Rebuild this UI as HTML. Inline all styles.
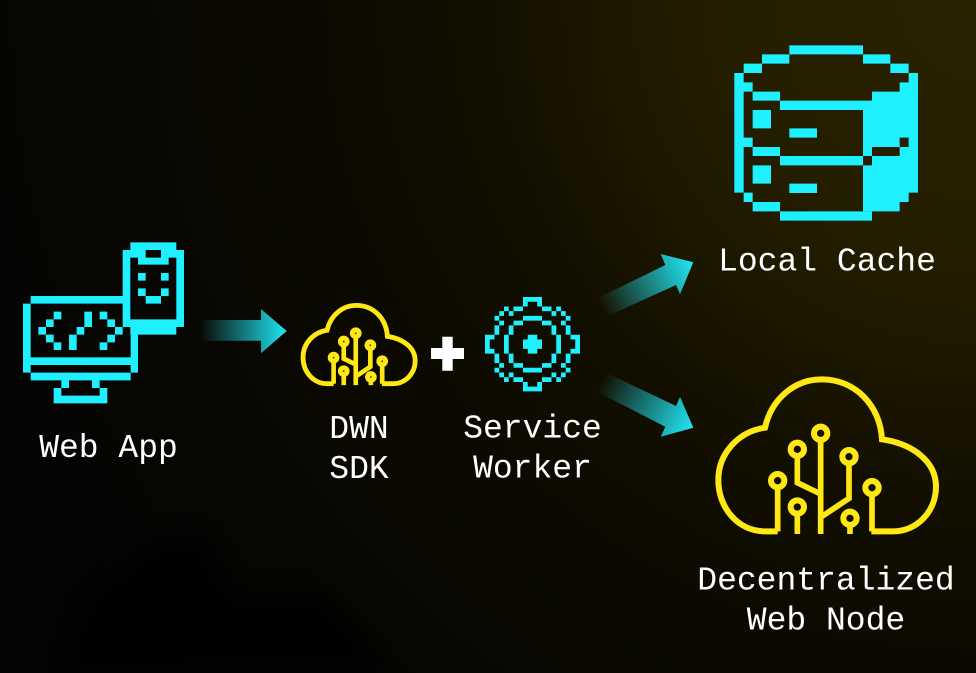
<!DOCTYPE html>
<html lang="en"><head><meta charset="utf-8"><title>DWN SDK diagram</title>
<style>
html,body{margin:0;padding:0;background:#000}
#s{display:block;width:976px;height:673px;background:radial-gradient(circle 1050px at 100% 0%,#2a2300 0%,#241d00 25%,#120f00 48%,#0c0a00 63%,#080702 80%,#050403 100%)}
text{font-family:"Liberation Mono",monospace;font-size:33px;fill:#fff;text-anchor:middle}
</style></head><body>
<svg id="s" xmlns="http://www.w3.org/2000/svg" width="976" height="673" viewBox="0 0 976 673">
<defs>
<filter id="b" x="-50%" y="-50%" width="200%" height="200%"><feGaussianBlur stdDeviation="10"/></filter>
<linearGradient id="a1" gradientUnits="userSpaceOnUse" x1="200" y1="330" x2="287" y2="330"><stop offset="0" stop-color="#20e6f5" stop-opacity="0"/><stop offset="1" stop-color="#20e6f5"/></linearGradient>
<linearGradient id="a2" gradientUnits="userSpaceOnUse" x1="602" y1="307.500" x2="693" y2="262.500"><stop offset="0" stop-color="#20e6f5" stop-opacity="0"/><stop offset="1" stop-color="#20e6f5"/></linearGradient>
<linearGradient id="a3" gradientUnits="userSpaceOnUse" x1="601" y1="382" x2="693" y2="427.700"><stop offset="0" stop-color="#20e6f5" stop-opacity="0"/><stop offset="1" stop-color="#20e6f5"/></linearGradient>
</defs>
<path d="M60 673 L85 600 L150 540 L205 530 L240 590 L330 590 L400 673 Z" fill="#000" filter="url(#b)" opacity=".7"/>

<g transform="translate(10,230) scale(.33333)" fill="#1ff0ff">
<path d="M62 198H340V221H62ZM39 221H62V428H39ZM62 382H362V405H62ZM362 313H384V428H362ZM62 428H362V451H62ZM154 451H177V474H154ZM246 451H269V474H246ZM131 474H154V497H269V474H292V520H131Z"/>
<path d="M131 245h23v23h-23zM108 268h23v23h-23zM85 291h23v23h-23zM108 314h23v23h-23zM131 337h23v23h-23zM223 245h23v46h-23zM200 291h23v23h-23zM177 314h23v46h-23zM269 245h23v23h-23zM292 268h23v23h-23zM315 291h23v23h-23zM292 314h23v23h-23zM269 337h23v23h-23z"/>
<path fill-rule="evenodd" d="M361 37H499V60H522V291H499V314H361V291H338V60H361ZM361 83V268H499V83H476V104H384V83ZM407 60V83H453V60Z"/>
<path d="M384 129h23v23h-23zM453 129h23v23h-23zM384 175h23v23h-23zM453 175h23v23h-23zM407 198h46v23h-46z"/>
</g>

<g transform="translate(720,35) scale(.33333)" fill="#1ff0ff">
<path d="M208 31H429V58H208ZM126 58H208V86H126ZM429 58H511V86H429ZM71 86H126V114H71ZM511 86H566V114H511ZM43 114H71V473H43ZM71 142H98V170H71ZM71 308H98V336H71ZM71 473H98V501H71ZM98 170H180V197H98ZM98 336H180V363H98ZM98 501H180V529H98ZM180 197H429V225H180ZM180 363H429V391H180ZM180 529H456V557H180ZM98 225H153V280H98ZM98 391H153V446H98ZM208 280H291V308H208ZM208 446H291V474H208Z"/>
<path d="M566 114H594V473H566V501H539V529H429V391H456V363H539V336H456V363H429V197H456V170H539V142H566ZM539 308V336H566V308Z" fill-rule="evenodd"/>
</g>

<g transform="translate(700,370) scale(.33333)" fill="none" stroke="#ffe816" stroke-width="18">
<path d="M233 484H195C115 484 55 415 55 330C55 250 115 185 195 173C215 85 285 28 365 28C465 28 540 105 546 208C640 222 708 275 708 350C708 425 650 484 580 484H514"/>
<path stroke-width="17" d="M362 210V492M292 258V338L362 372M447 280V385L362 442M233 352V484M516 373V484M292 431V492M450 465V492"/>
<g stroke-width="18"><circle cx="362" cy="190" r="20"/><circle cx="292" cy="238" r="20"/><circle cx="447" cy="260" r="20"/><circle cx="233" cy="332" r="20"/><circle cx="516" cy="353" r="20"/><circle cx="292" cy="411" r="20"/><circle cx="450" cy="445" r="20"/></g>
</g>

<g transform="translate(293.6,300.6) scale(.1717)" fill="none" stroke="#ffe816" stroke-width="28">
<path d="M233 484H195C115 484 55 415 55 330C55 250 115 185 195 173C215 85 285 28 365 28C465 28 540 105 546 208C640 222 708 275 708 350C708 425 650 484 580 484H514"/>
<path stroke-width="27" d="M362 210V492M292 258V338L362 372M447 280V385L362 442M233 352V484M516 373V484M292 431V492M450 465V492"/>
<g fill="#ffe816" stroke="none"><circle cx="362" cy="190" r="34"/><circle cx="292" cy="238" r="34"/><circle cx="447" cy="260" r="34"/><circle cx="233" cy="332" r="34"/><circle cx="516" cy="353" r="34"/><circle cx="292" cy="411" r="34"/><circle cx="450" cy="445" r="34"/></g>
<g fill="#3a3000" stroke="none"><circle cx="362" cy="190" r="5"/><circle cx="292" cy="238" r="5"/><circle cx="447" cy="260" r="5"/><circle cx="233" cy="332" r="5"/><circle cx="516" cy="353" r="5"/><circle cx="292" cy="411" r="5"/><circle cx="450" cy="445" r="5"/></g>
</g>

<path d="M431 348H442.300V336.700H452.700V348H464V359H452.700V370.700H442.300V359H431Z" fill="#fff"/>

<g transform="translate(485,297) scale(4.75,4.72)" fill="#1ff0ff">
<path d="M8 0h4v1h-4zM8 1h1v1h-1zM11 1h1v1h-1zM4 2h1v1h-1zM6 2h2v1h-2zM12 2h2v1h-2zM15 2h1v1h-1zM3 3h1v1h-1zM5 3h1v1h-1zM14 3h1v1h-1zM16 3h1v1h-1zM2 4h1v1h-1zM8 4h4v1h-4zM17 4h1v1h-1zM3 5h1v1h-1zM6 5h2v1h-2zM12 5h2v1h-2zM16 5h1v1h-1zM2 6h1v2h-1zM5 6h1v2h-1zM14 6h1v2h-1zM17 6h1v2h-1zM0 8h2v1h-2zM4 8h1v4h-1zM9 8h2v1h-2zM15 8h1v4h-1zM18 8h2v1h-2zM0 9h1v2h-1zM8 9h4v2h-4zM19 9h1v2h-1zM0 11h2v1h-2zM9 11h2v1h-2zM18 11h2v1h-2zM2 12h1v2h-1zM5 12h1v2h-1zM14 12h1v2h-1zM17 12h1v2h-1zM3 14h1v1h-1zM6 14h2v1h-2zM12 14h2v1h-2zM16 14h1v1h-1zM2 15h1v1h-1zM8 15h4v1h-4zM17 15h1v1h-1zM3 16h1v1h-1zM5 16h1v1h-1zM14 16h1v1h-1zM16 16h1v1h-1zM4 17h1v1h-1zM6 17h2v1h-2zM12 17h2v1h-2zM15 17h1v1h-1zM8 18h1v1h-1zM11 18h1v1h-1zM8 19h4v1h-4z"/>
</g>

<path d="M200 320H261V309L286.700 331L261 353.300V340.700H200Z" fill="url(#a1)"/>
<path d="M597.300 298.300L665.300 265L660.700 254L693.300 262.300L680 294.300L676 285L606 316.700Z" fill="url(#a2)"/>
<path d="M606 372.700L676 406L680 396.700L693.300 427.700L660.700 436.700L665.300 426.700L596.700 391.700Z" fill="url(#a3)"/>

<text x="108.500" y="457">Web App</text>
<text x="359" y="438">DWN</text>
<text x="359" y="478">SDK</text>
<text x="532.500" y="437.500">Service</text>
<text x="532.500" y="477.500">Worker</text>
<text x="827" y="270.500">Local Cache</text>
<text x="826" y="589.500">Decentralized</text>
<text x="826" y="629.500">Web Node</text>
</svg>
</body></html>
